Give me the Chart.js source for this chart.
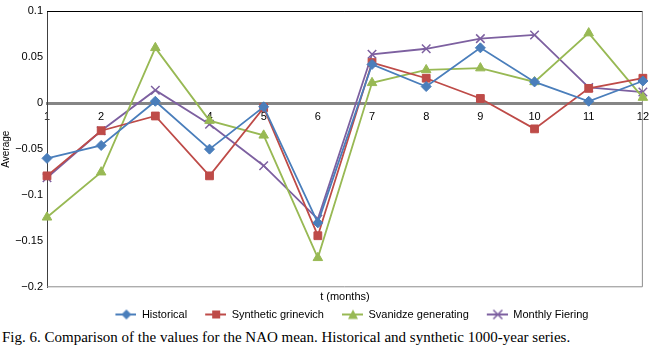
<!DOCTYPE html>
<html lang="en">
<head>
    <meta charset="UTF-8">
    <title>NAO mean comparison</title>
    <script src="https://cdn.jsdelivr.net/npm/chart.js"></script>
    <style>
        body {
            margin: 0;
            background: #fff;
            width: 656px;
            height: 347px;
            overflow: hidden;
        }

        #wrap {
            position: relative;
            width: 656px;
            height: 330px;
        }

        #caption {
            font-family: "Liberation Serif", "Times New Roman", serif;
            font-size: 15px;
            color: #000;
            padding-left: 2px;
            margin-top: -3px;
            line-height: 20px;
            white-space: nowrap;
        }
    </style>
</head>
<body>
    <div id="wrap"><canvas id="myChart"></canvas></div>
    <div id="caption">Fig. 6. Comparison of the values for the NAO mean. Historical and synthetic 1000-year series.</div>

    <script>
        // months on the x axis
        const months = ['1', '2', '3', '4', '5', '6', '7', '8', '9', '10', '11', '12'];

        // values
        const historical = [-0.060, -0.046, 0.002, -0.050, -0.004, -0.130, 0.042, 0.018, 0.060, 0.023, 0.002, 0.024];
        const grinevich = [-0.079, -0.030, -0.014, -0.079, -0.005, -0.144, 0.044, 0.027, 0.005, -0.028, 0.016, 0.027];
        const svanidze = [-0.124, -0.075, 0.060, -0.019, -0.035, -0.168, 0.022, 0.036, 0.038, 0.023, 0.076, 0.006];
        const fiering = [-0.081, -0.030, 0.014, -0.023, -0.068, -0.126, 0.053, 0.059, 0.070, 0.074, 0.017, 0.012];

        const yTicks = [0.1, 0.05, 0, -0.05, -0.1, -0.15, -0.2];

        const font = 'Liberation Sans, Arial, sans-serif';

        // legend glyph: line with the marker on it, blank space on the left
        // keeps the items apart
        function legendIcon(color, style) {
            const c = document.createElement('canvas');
            c.width = 35;
            c.height = 12;
            const g = c.getContext('2d');
            const cx = 25, cy = 6;
            g.strokeStyle = color;
            g.fillStyle = color;
            g.lineWidth = 2;
            g.beginPath();
            g.moveTo(14, cy);
            g.lineTo(35, cy);
            g.stroke();
            g.beginPath();
            if (style === 'rectRot') {
                g.moveTo(cx, cy - 5); g.lineTo(cx + 5, cy); g.lineTo(cx, cy + 5); g.lineTo(cx - 5, cy);
                g.closePath(); g.fill();
            } else if (style === 'rect') {
                g.fillRect(cx - 4, cy - 4, 8, 8);
            } else if (style === 'triangle') {
                g.moveTo(cx, cy - 5); g.lineTo(cx + 5, cy + 4.5); g.lineTo(cx - 5, cy + 4.5);
                g.closePath(); g.fill();
            } else {
                g.lineWidth = 1.5;
                g.moveTo(cx - 4.5, cy - 4.5); g.lineTo(cx + 4.5, cy + 4.5);
                g.moveTo(cx + 4.5, cy - 4.5); g.lineTo(cx - 4.5, cy + 4.5);
                g.stroke();
            }
            return c;
        }

        function series(label, data, color, style, radius) {
            return {
                label: label,
                data: data,
                borderColor: color,
                backgroundColor: color,
                pointBackgroundColor: color,
                pointBorderColor: color,
                pointStyle: style,
                pointRadius: radius,
                pointBorderWidth: style === 'crossRot' ? 1.5 : 1,
                borderWidth: 1.8,
                tension: 0,
                icon: legendIcon(color, style)
            };
        }

        // plot frame (top, right, bottom) like the spreadsheet chart
        const framePlugin = {
            id: 'frame',
            beforeDatasetsDraw(chart) {
                const a = chart.chartArea;
                const ctx = chart.ctx;
                ctx.save();
                ctx.lineWidth = 1;
                ctx.strokeStyle = '#000';
                ctx.beginPath();
                ctx.moveTo(a.left, a.top + 0.5);
                ctx.lineTo(a.right, a.top + 0.5);
                ctx.stroke();
                ctx.strokeStyle = '#8c8c8c';
                ctx.beginPath();
                ctx.moveTo(a.right - 0.5, a.top);
                ctx.lineTo(a.right - 0.5, a.bottom - 0.5);
                ctx.lineTo(a.left, a.bottom - 0.5);
                ctx.stroke();
                ctx.restore();
            }
        };

        const ctx = document.getElementById('myChart').getContext('2d');
        const myChart = new Chart(ctx, {
            type: 'line',
            data: {
                labels: months,
                datasets: [
                    series('Historical', historical, '#4a7ebb', 'rectRot', 5),
                    series('Synthetic grinevich', grinevich, '#be4b48', 'rect', 5.5),
                    series('Svanidze generating', svanidze, '#98b954', 'triangle', 5.5),
                    series('Monthly Fiering', fiering, '#7d60a0', 'crossRot', 6)
                ]
            },
            plugins: [framePlugin],
            options: {
                responsive: true,
                maintainAspectRatio: false,
                animation: false,
                layout: {
                    padding: { top: 11, right: 11, left: 0, bottom: 0 }
                },
                plugins: {
                    tooltip: { enabled: false },
                    legend: {
                        position: 'bottom',
                        fullSize: false,
                        title: {
                            display: true,
                            text: 't (months)',
                            color: '#000',
                            padding: { top: 4.5, bottom: 0 },
                            font: { family: font, size: 11 }
                        },
                        labels: {
                            usePointStyle: true,
                            pointStyleWidth: 35,
                            padding: 4,
                            color: '#000',
                            font: { family: font, size: 11 },
                            generateLabels(chart) {
                                const items = Chart.defaults.plugins.legend.labels.generateLabels(chart);
                                items.forEach(it => {
                                    it.pointStyle = chart.data.datasets[it.datasetIndex].icon;
                                });
                                return items;
                            }
                        }
                    }
                },
                scales: {
                    x: {
                        type: 'category',
                        position: { y: 0 },
                        offset: false,
                        grid: { display: false, drawTicks: false },
                        border: { display: true, color: '#858585', width: 3 },
                        ticks: {
                            color: '#000',
                            padding: 7,
                            maxRotation: 0,
                            autoSkip: false,
                            font: { family: font, size: 11 }
                        }
                    },
                    y: {
                        min: -0.2,
                        max: 0.1,
                        afterFit(scale) { scale.width = 47; },
                        afterBuildTicks(scale) {
                            scale.ticks = yTicks.map(v => ({ value: v }));
                        },
                        grid: { display: false, drawTicks: false },
                        border: { display: true, color: '#404040', width: 1 },
                        ticks: {
                            color: '#000',
                            padding: 4,
                            font: { family: font, size: 11 },
                            callback: v => {
                                const n = parseFloat(v.toFixed(2));
                                return n < 0 ? '\u2212' + Math.abs(n) : String(n);
                            }
                        },
                        title: {
                            display: true,
                            text: 'Average',
                            color: '#000',
                            padding: { top: 0, bottom: 0 },
                            font: { family: font, size: 10 }
                        }
                    }
                }
            }
        });
    </script>
</body>
</html>
